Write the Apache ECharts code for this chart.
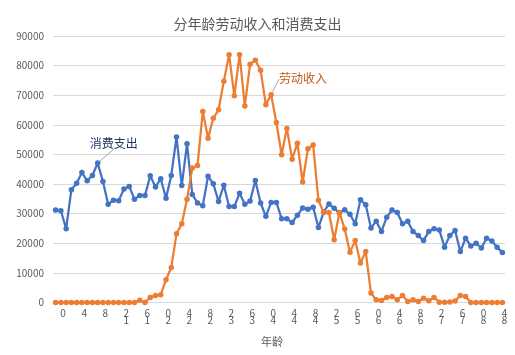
<!DOCTYPE html>
<html>
<head>
<meta charset="utf-8">
<script src="https://cdn.jsdelivr.net/npm/echarts@6/dist/echarts.min.js"></script>
<style>
html,body{margin:0;padding:0;background:#fff;}
#c{width:515px;height:355px;}
</style>
</head>
<body>
<div id="c"></div>
<script>
const ages = [0,1,2,3,4,5,6,7,8,9,10,11,12,13,14,15,16,17,18,19,20,21,22,23,24,25,26,27,28,29,30,31,32,33,34,35,36,37,38,39,40,41,42,43,44,45,46,47,48,49,50,51,52,53,54,55,56,57,58,59,60,61,62,63,64,65,66,67,68,69,70,71,72,73,74,75,76,77,78,79,80,81,82,83,84,85];

const laborIncome = [0,0,0,0,0,0,0,0,0,0,0,0,0,0,0,0,800,0,1700,2400,2600,7700,11800,23200,26600,34900,45400,46300,64500,55500,62200,65100,74700,83700,69800,83700,66400,80500,81800,78400,66800,70200,60800,49900,58800,48400,53800,40700,51900,53200,34500,30400,30400,21200,30400,24800,17000,20900,13300,17200,3200,900,700,1700,2000,900,2400,300,900,300,1400,600,1700,100,100,200,500,2400,2000,0,0,0,0,0,0,0];

const consumption = [31200,31000,24900,38100,40300,43900,41100,42900,47100,40900,33200,34500,34400,38300,39200,34900,36100,36100,42800,39000,41800,35200,42900,55900,39500,53600,36500,33600,32700,42600,40100,34100,39600,32400,32400,36900,33200,34300,41200,33600,29100,33800,33800,28300,28300,27000,29500,31900,31500,32200,25300,30500,33300,31800,30300,31300,29800,26600,34700,33000,25200,27400,24000,28800,31200,30400,26600,27400,24000,22600,20900,24000,24900,24500,18700,22600,24300,17200,21700,19100,20000,18400,21700,20800,18700,16900];

const seriesNames = ['劳动收入','消费支出'];
const labelIndex = [41, 8];
const titleText = '分年龄劳动收入和消费支出';
const xName = '年龄';

const FONT = '"Noto Sans CJK SC", "Noto Sans", sans-serif';

const chart = echarts.init(document.getElementById('c'), null, {renderer:'canvas'});

function mkSeries(name, values, color, textColor, idx, dx, dy) {
  const data = values.map((v, i) => i === idx ? {
    value: v,
    label: {show: true, position: 'top', formatter: name, fontFamily: FONT, fontSize: 12, color: textColor},
    labelLine: {show: true, lineStyle: {color: '#A6A6A6', width: 1}}
  } : v);
  return {
    name: name,
    type: 'line',
    data: data,
    symbol: 'circle',
    symbolSize: 5.5,
    showSymbol: true,
    showAllSymbol: true,
    lineStyle: {color: color, width: 2.25},
    itemStyle: {color: color},
    emphasis: {disabled: true},
    label: {show: false},
    labelLine: {show: false},
    labelLayout: p => p.dataIndex === idx ? {dx: dx, dy: dy, hideOverlap: false} : {},
    animation: false,
    z: name === seriesNames[0] ? 3 : 2
  };
}

chart.setOption({
  backgroundColor: '#fff',
  animation: false,
  title: {
    text: titleText,
    left: 'center',
    top: 12,
    textStyle: {fontFamily: FONT, fontSize: 14, fontWeight: 'normal', color: '#595959'}
  },
  grid: {left: 53, right: 10, top: 36, bottom: 52.5, containLabel: false},
  xAxis: {
    type: 'category',
    data: ages,
    boundaryGap: true,
    name: xName,
    nameLocation: 'middle',
    nameGap: 34,
    nameTextStyle: {fontFamily: FONT, fontSize: 11, color: '#595959', padding: [0, 14, 0, 0]},
    axisLine: {lineStyle: {color: '#D9D9D9'}},
    axisTick: {show: false},
    axisLabel: {
      interval: 3,
      margin: 7,
      fontFamily: FONT,
      fontSize: 10,
      lineHeight: 7,
      color: '#595959',
      padding: [0, 0, 0, 15],
      formatter: v => String(v).split('').reverse().join('\n')
    },
    splitLine: {show: false}
  },
  yAxis: {
    type: 'value',
    min: 0,
    max: 90000,
    interval: 10000,
    axisLine: {show: false},
    axisTick: {show: false},
    axisLabel: {fontFamily: FONT, fontSize: 10, color: '#595959', margin: 9, formatter: v => String(v)},
    splitLine: {lineStyle: {color: '#D9D9D9', width: 1}}
  },
  series: [
    mkSeries(seriesNames[0], laborIncome, '#ED7D31', '#C55A11', labelIndex[0], 32, -2),
    mkSeries(seriesNames[1], consumption, '#4472C4', '#203864', labelIndex[1], 16, -6)
  ]
});
</script>
</body>
</html>
